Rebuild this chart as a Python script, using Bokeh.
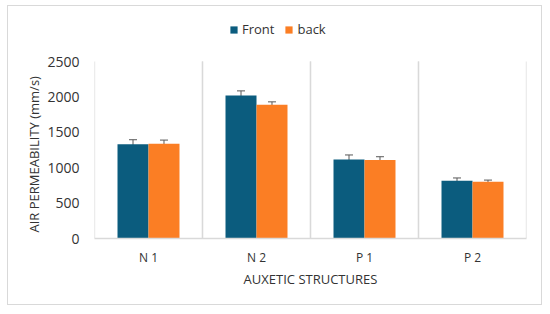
from bokeh.plotting import figure
from bokeh.models import ColumnDataSource, Legend, LegendItem, Whisker, TeeHead, FixedTicker, Title
from bokeh.transform import dodge
from bokeh.embed import file_html
from bokeh.resources import INLINE

categories = ["N 1", "N 2", "P 1", "P 2"]
front = [1330, 2020, 1115, 815]
front_err = [65, 65, 65, 40]
back = [1340, 1890, 1110, 800]
back_err = [50, 40, 45, 25]
y_ticks = [0, 500, 1000, 1500, 2000, 2500]

FONT = "Open Sans"
C_FRONT = "#0B5C7E"
C_BACK = "#FB7E24"
GRID = "#d9d9d9"

src = ColumnDataSource(dict(
    cat=categories, front=front, back=back,
    f_lo=[v - e for v, e in zip(front, front_err)],
    f_hi=[v + e for v, e in zip(front, front_err)],
    b_lo=[v - e for v, e in zip(back, back_err)],
    b_hi=[v + e for v, e in zip(back, back_err)],
    y0=[0] * len(categories), y1=[y_ticks[-1]] * len(categories),
))

# frame is taller than the value axis so the legend fits inside it
H, top_b, bot_b = 300, 10, 68
frame_h = H - top_b - bot_b
y_end = y_ticks[-1] * frame_h / 177.0

p = figure(x_range=categories, y_range=(0, y_end), width=535, height=H,
           output_backend="svg", toolbar_location=None,
           min_border_left=86, min_border_right=17, min_border_top=top_b, min_border_bottom=bot_b)
p.styles = {"border": "1px solid #d9d9d9", "margin-left": "7px", "margin-top": "5px"}
p.outline_line_color = None
p.xgrid.grid_line_color = None
p.ygrid.grid_line_color = None

# vertical separators between categories
for d in (-0.5, 0.5):
    p.segment(x0=dodge("cat", d, range=p.x_range), y0="y0",
              x1=dodge("cat", d, range=p.x_range), y1="y1",
              source=src, line_color=GRID, line_width=1.3)

off = 0.1435
w = 0.287
r1 = p.vbar(x=dodge("cat", -off, range=p.x_range), top="front", width=w, source=src,
            fill_color=C_FRONT, line_color=None)
r2 = p.vbar(x=dodge("cat", off, range=p.x_range), top="back", width=w, source=src,
            fill_color=C_BACK, line_color=None)

for xcol, lo, hi in [(-off, "f_lo", "f_hi"), (off, "b_lo", "b_hi")]:
    wk = Whisker(base=dodge("cat", xcol, range=p.x_range), lower=lo, upper=hi, source=src,
                 line_color="#595959", line_width=1,
                 upper_head=TeeHead(size=8, line_color="#595959", line_width=1),
                 lower_head=TeeHead(size=8, line_color="#595959", line_width=1))
    p.add_layout(wk)

p.yaxis.ticker = FixedTicker(ticks=y_ticks)
p.yaxis.axis_line_color = None
p.yaxis.major_tick_line_color = None
p.yaxis.minor_tick_line_color = None
p.yaxis.major_label_text_font = FONT
p.yaxis.major_label_text_font_size = "14px"
p.yaxis.major_label_text_color = "#333333"
p.yaxis.major_label_standoff = 9

# vertical axis title, aligned to the value axis (not the taller frame)
ytitle = Title(text="AIR PERMEABILITY (mm/s)", align="left", offset=6,
               text_font=FONT, text_font_size="13px", text_font_style="normal",
               text_color="#333333", standoff=4)
p.add_layout(ytitle, "left")

p.xaxis.axis_line_color = GRID
p.xaxis.axis_line_width = 1.3
p.xaxis.major_tick_line_color = None
p.xaxis.minor_tick_line_color = None
p.xaxis.major_label_text_font = FONT
p.xaxis.major_label_text_font_size = "12px"
p.xaxis.major_label_text_color = "#333333"
p.xaxis.major_label_standoff = 4
p.xaxis.axis_label = "AUXETIC STRUCTURES"
p.xaxis.axis_label_text_font = FONT
p.xaxis.axis_label_text_font_size = "13px"
p.xaxis.axis_label_text_font_style = "normal"
p.xaxis.axis_label_text_color = "#333333"
p.xaxis.axis_label_standoff = 1

legend = Legend(items=[LegendItem(label="Front", renderers=[r1]),
                       LegendItem(label="back", renderers=[r2])],
                orientation="horizontal", location=(135, 200),
                label_text_font=FONT, label_text_font_size="13px", label_text_color="#333333",
                glyph_width=9, glyph_height=9, spacing=10, label_standoff=4,
                padding=0, margin=0, border_line_color=None, background_fill_alpha=0)
p.add_layout(legend, "center")

open("out.html", "w").write(file_html(p, INLINE))
